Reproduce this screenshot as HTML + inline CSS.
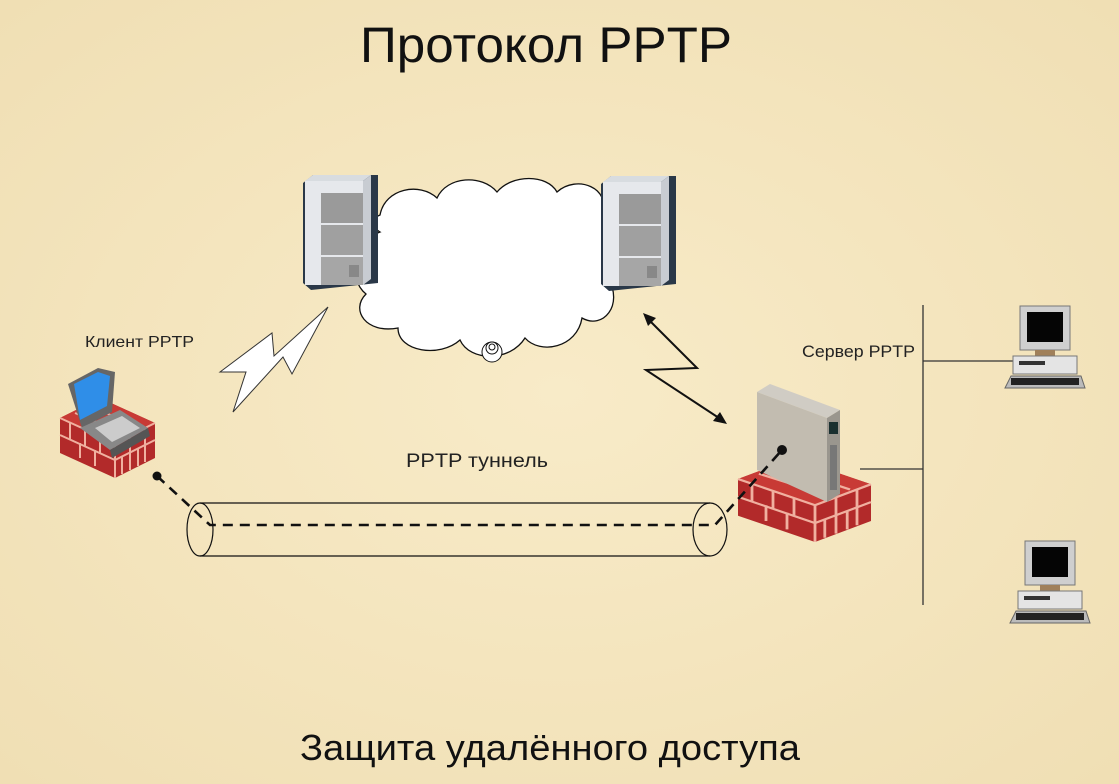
<!DOCTYPE html>
<html><head><meta charset="utf-8"><style>
html,body{margin:0;padding:0;background:#f5e8c4}
svg{display:block}
text{font-family:"Liberation Sans",sans-serif}
</style></head><body>
<svg width="1119" height="784" viewBox="0 0 1119 784" xmlns="http://www.w3.org/2000/svg">
<defs>
<radialGradient id="bg" cx="50%" cy="50%" r="70%"><stop offset="0" stop-color="#f8ebc8"/><stop offset="1" stop-color="#f0dfb4"/></radialGradient>
<g id="brick">
  <polygon points="0,20 40,0 95,25 95,60 55,80 0,55" fill="#b22a2a"/>
  <polygon points="0,20 40,0 95,25 55,45" fill="#c83a35"/>
  <g stroke="#f0b0a0" stroke-width="2" fill="none">
    <path d="M0,20 L55,45 L95,25 M55,45 L55,80 M0,37 L55,62 L95,42 M10,25 L10,42 M25,32 L25,48 M40,38 L40,56 M20,45 L20,60 M35,52 L35,68 M70,38 L70,72 M85,30 L85,64 M62,58 L62,76 M78,50 L78,68 M15,15 L70,38 M30,8 L80,30"/>
  </g>
</g>
<g id="tower">
  <polygon points="0,8 10,0 75,0 75,108 8,115 0,108" fill="#2a3848"/>
  <polygon points="2,6 10,0 68,0 60,6" fill="#d8dce0"/>
  <rect x="2" y="6" width="58" height="104" fill="#e6e8ec"/>
  <rect x="18" y="18" width="42" height="30" fill="#9a9a9a"/>
  <rect x="18" y="50" width="42" height="30" fill="#a0a0a0"/>
  <rect x="18" y="82" width="42" height="28" fill="#a6a6a6"/>
  <rect x="46" y="90" width="10" height="12" fill="#888"/>
  <polygon points="60,6 68,0 68,104 60,110" fill="#c8ccd2"/>
</g>
<g id="pc">
  <rect x="15" y="0" width="50" height="44" fill="#cfcfcf" stroke="#777"/>
  <rect x="22" y="6" width="36" height="30" fill="#050505"/>
  <rect x="30" y="44" width="20" height="6" fill="#a0805a"/>
  <rect x="8" y="50" width="64" height="18" fill="#e4e4e4" stroke="#777"/>
  <rect x="14" y="55" width="26" height="4" fill="#333"/>
  <polygon points="0,82 6,70 76,70 80,82" fill="#bbb" stroke="#666"/>
  <rect x="6" y="72" width="68" height="7" fill="#222"/>
</g>
</defs>
<rect width="1119" height="784" fill="url(#bg)"/>

<text x="360" y="62" font-size="50" textLength="372" lengthAdjust="spacingAndGlyphs" fill="#111">Протокол PPTP</text>
<text x="300" y="760" font-size="36" textLength="500" lengthAdjust="spacingAndGlyphs" fill="#111">Защита удалённого доступа</text>

<!-- cloud -->
<path d="M380,215 C385,188 420,182 437,198 C447,176 482,174 497,192 C512,174 547,174 557,192 C577,174 612,188 602,215 C628,225 628,262 608,278 C624,305 603,330 582,318 C577,348 540,355 525,338 C510,362 470,362 460,340 C440,358 398,352 398,328 C366,334 350,310 366,294 C346,278 356,240 380,232 C370,226 372,218 380,215 Z" fill="#fff" stroke="#111" stroke-width="1.3"/>
<circle cx="492" cy="352" r="10" fill="#fff" stroke="#111"/>
<circle cx="492" cy="348" r="6" fill="#fff" stroke="#111"/>
<circle cx="492" cy="347" r="3" fill="none" stroke="#111"/>

<use href="#tower" x="303" y="175"/>
<use href="#tower" x="601" y="176"/>

<!-- lightning -->
<polygon points="220,372 272,333 274,356 328,307 292,374 283,357 233,412 246,372" fill="#fff" stroke="#333" stroke-width="1"/>

<!-- zigzag arrow -->
<polyline points="647,318 697,368 646,370 722,420" fill="none" stroke="#111" stroke-width="2"/>
<polygon points="643,313 656,318 648,326" fill="#111"/>
<polygon points="727,424 713,421 720,412" fill="#111"/>

<!-- laptop on firewall -->
<use href="#brick" x="60" y="398"/>
<g>
  <polygon points="68,384 98,368 115,372 112,412 82,428" fill="#666"/>
  <polygon points="74,384 98,372 110,376 107,406 80,420" fill="#2f8ee8"/>
  <polygon points="80,428 120,410 148,428 110,450" fill="#888"/>
  <polygon points="95,428 122,416 140,428 112,442" fill="#ccc"/>
  <polygon points="110,450 148,428 150,436 112,458" fill="#555"/>
</g>
<text x="85" y="347" font-size="16" textLength="109" lengthAdjust="spacingAndGlyphs" fill="#222">Клиент PPTP</text>

<!-- server firewall -->
<use href="#brick" x="738" y="458" transform="translate(738,458) scale(1.4,1.05) translate(-738,-458)"/>
<g>
  <polygon points="757,392 770,384 840,410 827,418" fill="#d0ccc4"/>
  <polygon points="757,392 827,418 827,502 757,470" fill="#c2bcb0"/>
  <polygon points="827,418 840,410 840,494 827,502" fill="#9a968e"/>
  <rect x="829" y="422" width="9" height="12" fill="#1a3030"/>
  <rect x="830" y="445" width="7" height="45" fill="#777"/>
</g>
<circle cx="782" cy="450" r="5" fill="#111"/>
<text x="802" y="357" font-size="17" textLength="113" lengthAdjust="spacingAndGlyphs" fill="#222">Сервер PPTP</text>

<!-- network lines -->
<line x1="923" y1="305" x2="923" y2="605" stroke="#333" stroke-width="1.3"/>
<line x1="923" y1="361" x2="1015" y2="361" stroke="#333" stroke-width="1.3"/>
<line x1="860" y1="469" x2="923" y2="469" stroke="#333" stroke-width="1.3"/>
<use href="#pc" x="1005" y="306"/>
<use href="#pc" x="1010" y="541"/>

<!-- tunnel -->
<path d="M200,503 L710,503 M200,556 L710,556" stroke="#111" stroke-width="1.2"/>
<ellipse cx="200" cy="529.5" rx="13" ry="26.5" fill="none" stroke="#111" stroke-width="1.2"/>
<ellipse cx="710" cy="529.5" rx="17" ry="26.5" fill="none" stroke="#111" stroke-width="1.2"/>
<circle cx="157" cy="476" r="4.5" fill="#111"/>
<polyline points="157,476 210,525 715,525 782,450" fill="none" stroke="#111" stroke-width="2.6" stroke-dasharray="10,7"/>
<text x="406" y="467" font-size="19" textLength="142" lengthAdjust="spacingAndGlyphs" fill="#222">PPTP туннель</text>
</svg>
</body></html>
